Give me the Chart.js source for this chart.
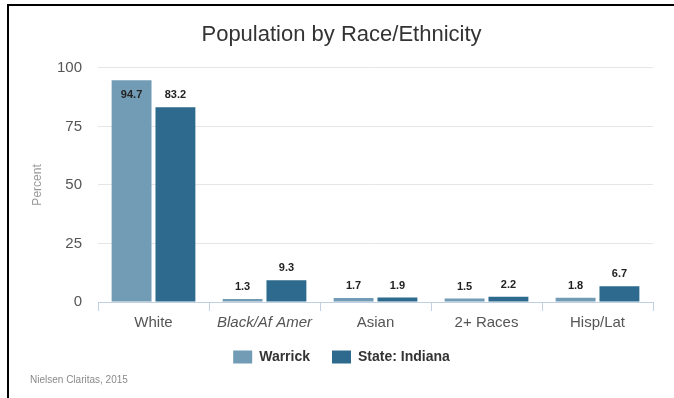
<!DOCTYPE html>
<html>
<head>
<meta charset="utf-8">
<script src="https://cdn.jsdelivr.net/npm/chart.js@4/dist/chart.umd.min.js"></script>
<style>
  html, body { margin: 0; padding: 0; background: #fff; }
  #frame { position: absolute; left: 7px; top: 4px; right: 0; bottom: 0;
           border-top: 2px solid #000; border-left: 2px solid #000; }
  #wrap { position: absolute; left: 0; top: 0; width: 674px; height: 398px; }
</style>
</head>
<body>
<div id="frame"></div>
<div id="wrap"><canvas id="c" width="674" height="398"></canvas></div>
<script>
const categories = ['White', 'Black/Af Amer', 'Asian', '2+ Races', 'Hisp/Lat'];
const warrick = [94.7, 1.3, 1.7, 1.5, 1.8];
const indiana = [83.2, 9.3, 1.9, 2.2, 6.7];
const yTicks = [0, 25, 50, 75, 100];

const FONT = '"Liberation Sans", Arial, Helvetica, sans-serif';

// Value labels above each bar; a label that would run past the plot top goes inside the bar.
const valueLabels = {
  id: 'valueLabels',
  afterDatasetsDraw(chart) {
    const ctx = chart.ctx;
    ctx.save();
    ctx.font = 'bold 11px ' + FONT;
    ctx.fillStyle = '#222';
    ctx.textAlign = 'center';
    ctx.textBaseline = 'middle';
    chart.data.datasets.forEach((ds, i) => {
      chart.getDatasetMeta(i).data.forEach((bar, j) => {
        let y = bar.y - 12;
        if (y - 6 < chart.chartArea.top) y = bar.y + 15;
        ctx.fillText(ds.data[j].toFixed(1), bar.x, y);
      });
    });
    ctx.restore();
  }
};

// Source note in the bottom-left corner.
const sourceNote = {
  id: 'sourceNote',
  afterDraw(chart) {
    const ctx = chart.ctx;
    ctx.save();
    ctx.font = '10px ' + FONT;
    ctx.fillStyle = '#8a8a8a';
    ctx.textAlign = 'left';
    ctx.textBaseline = 'middle';
    ctx.fillText('Nielsen Claritas, 2015', 30, 380);
    ctx.restore();
  }
};

new Chart(document.getElementById('c'), {
  type: 'bar',
  data: {
    labels: categories,
    datasets: [
      { label: 'Warrick', data: warrick, backgroundColor: '#729cb6', borderWidth: 0 },
      { label: 'State: Indiana', data: indiana, backgroundColor: '#2d6a8e', borderWidth: 0 }
    ]
  },
  options: {
    responsive: false,
    animation: false,
    devicePixelRatio: 1,
    categoryPercentage: 0.79,
    barPercentage: 0.91,
    layout: { padding: { left: 30, right: 21, top: 14, bottom: 24 } },
    plugins: {
      title: {
        display: true,
        text: 'Population by Race/Ethnicity',
        color: '#333',
        font: { family: FONT, size: 22, weight: 'normal' },
        padding: { top: 8, bottom: 19.5 }
      },
      legend: {
        position: 'bottom',
        labels: {
          color: '#333',
          font: { family: FONT, size: 14, weight: 'bold' },
          boxWidth: 19,
          boxHeight: 13,
          padding: 22
        }
      },
      tooltip: { enabled: false }
    },
    scales: {
      x: {
        afterFit: (scale) => {
          // tighter axis band; let the category labels overhang it without clipping
          scale.height -= 7;
          scale._computeLabelArea = () => undefined;
        },
        grid: {
          offset: true,
          drawOnChartArea: false,
          drawTicks: true,
          tickLength: 9,
          color: '#c0d0e0'
        },
        border: { display: true, color: '#c0d0e0' },
        ticks: {
          color: '#555',
          padding: 3,
          font: (ctx) => ({ family: FONT, size: 15, style: ctx.index === 1 ? 'italic' : 'normal' })
        }
      },
      y: {
        min: 0,
        max: 100,
        afterBuildTicks: (scale) => { scale.ticks = yTicks.map(v => ({ value: v })); },
        afterFit: (scale) => { scale.width = 68; },
        grid: { color: '#e6e6e6', drawTicks: false },
        border: { display: false },
        ticks: { color: '#555', padding: 16, font: { family: FONT, size: 15 } },
        title: {
          display: true,
          text: 'Percent',
          color: '#999',
          font: { family: FONT, size: 12 },
          padding: { top: 0, bottom: 0 }
        }
      }
    }
  },
  plugins: [valueLabels, sourceNote]
});
</script>
</body>
</html>
